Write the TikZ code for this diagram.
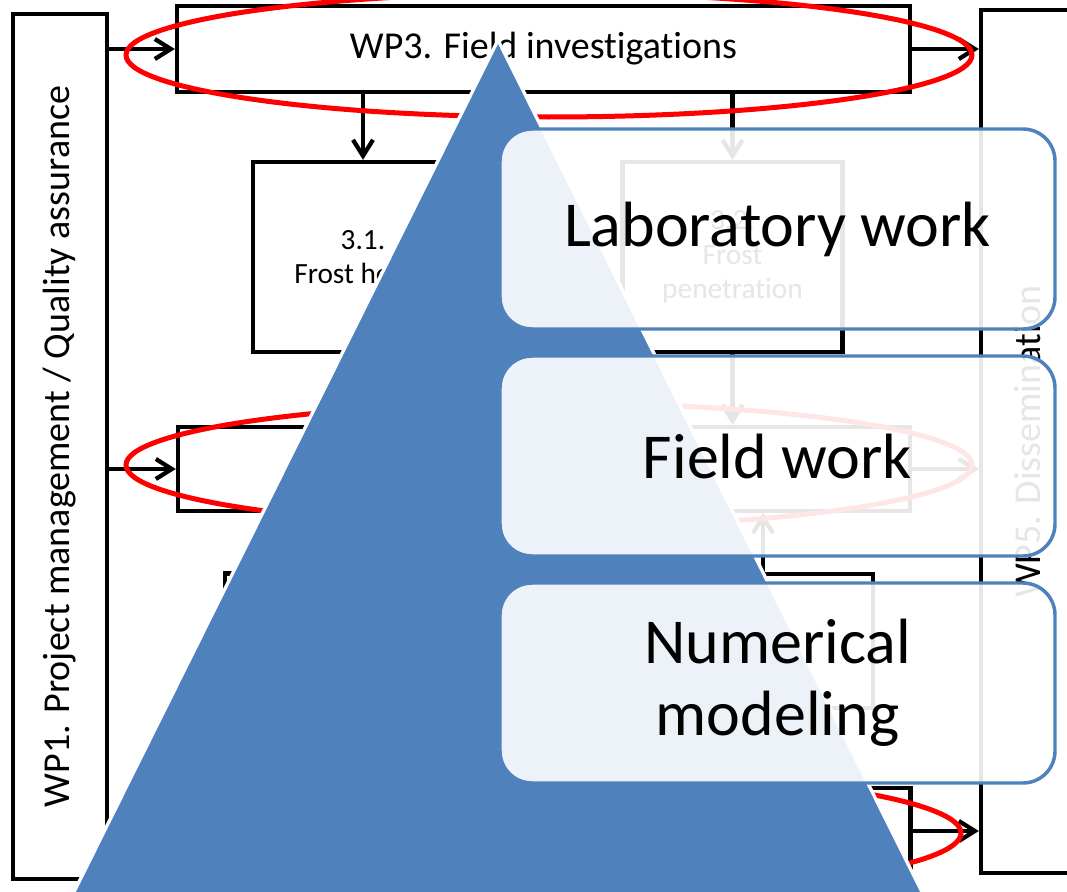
\documentclass[tikz,border=0pt]{standalone}
\usepackage{fontspec}
\setmainfont{Carlito}[RawFeature={-liga;-calt;-clig}]
\usepackage{tikz}
\usetikzlibrary{positioning,arrows.meta,calc}
\definecolor{pyrblue}{RGB}{79,129,189}
\definecolor{ringred}{RGB}{255,0,0}
\newcommand{\nolig}{\kern0pt{}}

\begin{document}
\begin{tikzpicture}[x=0.75pt,y=-0.75pt,
  wpbox/.style={draw=black,line width=3.2pt,inner sep=0pt,align=center,font=\fontsize{28.5}{34}\selectfont},
  taskbox/.style={wpbox,minimum width=165pt,minimum height=142.5pt,font=\fontsize{22}{26}\selectfont},
  flow/.style={line width=3.2pt,-{Straight Barb[length=12pt,width=15pt]}},
  ring/.style={draw=ringred,line width=3.75pt},
  tier/.style={draw=pyrblue,line width=2.6pt,fill=white,fill opacity=0.9,text opacity=1,rounded corners=24pt,
    minimum width=416.25pt,minimum height=150pt,inner sep=0pt,align=center,font=\fontsize{48}{54}\selectfont}]
  \useasboundingbox (0,0) rectangle (1067,892);

  \node[wpbox,rotate=90,minimum width=648.75pt,minimum height=70.5pt] (wp1) at (60,446.5) {WP1. Project management / Quality assurance};
  \node[wpbox,minimum width=549.75pt,minimum height=64.5pt] (wp3) at (543.5,49) {WP3. Field invest\nolig igat\nolig ions};
  \node[wpbox,rotate=90,minimum width=647.25pt,minimum height=70.5pt] (wp5) at (1028,441.5) {WP5. Disseminat\nolig ion};
  \node[taskbox] (t31) at (363,257) {3.1.\\Frost heave};
  \node[taskbox] (t32) at (732.5,257) {3.2.\\Frost\\penetrat\nolig ion};
  \node[wpbox,minimum width=549pt,minimum height=63pt] (wp4) at (544,469) {};
  \node[taskbox,minimum height=100.5pt] (t41) at (335,640.5) {};
  \node[taskbox,minimum height=100.5pt] (t42) at (763,641) {};
  \node[wpbox,minimum width=549.75pt,minimum height=64.5pt] (wp2) at (544,831) {};

  \draw[flow] (wp3.west -| wp1.south) -- (wp3.west);
  \draw[flow] (wp4.west -| wp1.south) -- (wp4.west);
  \draw[flow] (wp3.east) -- (wp3.east -| wp5.north);
  \draw[flow] (wp4.east) -- (wp4.east -| wp5.north);
  \draw[flow] (wp2.east) -- (wp2.east -| wp5.north);
  \draw[flow] (t31.north |- wp3.south) -- (t31.north);
  \draw[flow] (t32.north |- wp3.south) -- (t32.north);
  \draw[flow] (t32.south) -- (t32.south |- wp4.north);
  \draw[flow] (t42.north) -- (t42.north |- wp4.south);

  \draw[ring] (549,55) ellipse [x radius=423, y radius=62];
  \draw[ring] (549,465) ellipse [x radius=423, y radius=62];
  \draw[ring] (549,833) ellipse [x radius=412, y radius=62];

  \filldraw[fill=pyrblue,draw=white,line width=2.5pt] (498,40) -- (70,900) -- (926,900) -- cycle;

  \node[tier] (lab) at (777.5,229) {Laboratory work};
  \node[tier] (field) at (777.5,456) {Field work};
  \node[tier] (num) at (777.5,683) {Numerical\\modeling};
\end{tikzpicture}
\end{document}
